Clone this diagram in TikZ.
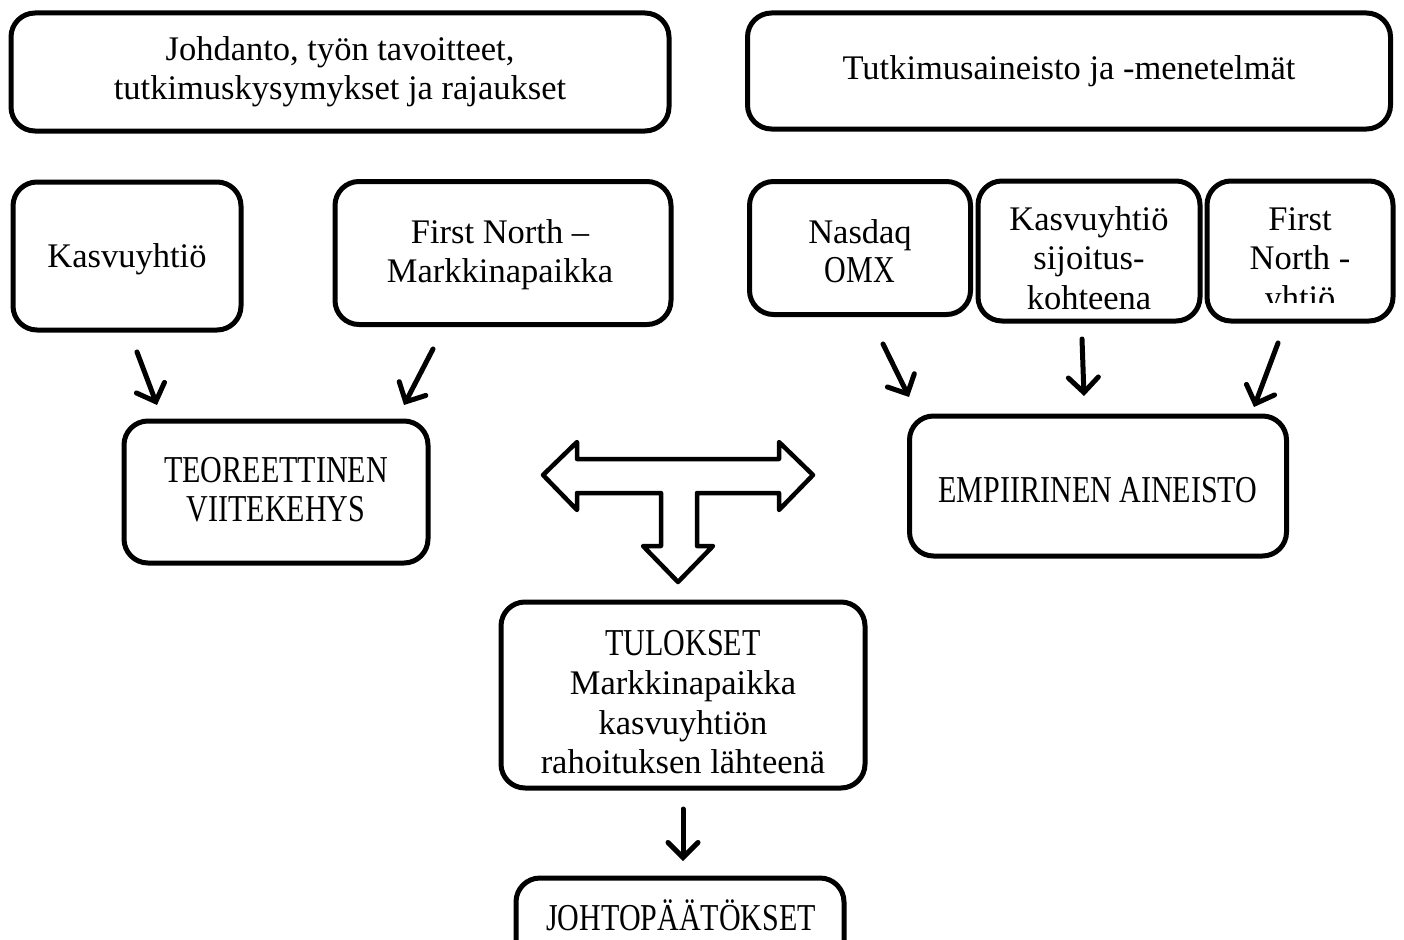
\documentclass[tikz,border=0pt]{standalone}
\usepackage{fontspec}
\setmainfont{Liberation Serif}
\newfontfamily\capsfont[FakeStretch=0.79]{Liberation Serif}
\newcommand\capstext{\fontsize{38}{39.3}\capsfont}
\usetikzlibrary{arrows.meta}
\begin{document}
\begin{tikzpicture}[x=1pt,y=-1pt,
  txt/.style={font=\fontsize{34.5}{39.3}\selectfont, align=center, inner sep=0pt},
  box/.style={draw, line width=5pt, rounded corners=24pt, txt},
  arr/.style={line width=5pt, line cap=round,
    -{Straight Barb[length=15pt,width=30pt,line cap=round]}}]
\clip (0,0) rectangle (1404,939);
\fill[white] (0,0) rectangle (1404,939);
% top boxes
\node[box, minimum width=658pt, minimum height=118pt] (intro) at (340,72)
  {Johdanto, työn tavoitteet,\\tutkimuskysymykset ja rajaukset};
\node[box, minimum width=643pt, minimum height=116pt] (method) at (1069,71)
  {Tutkimusaineisto ja -menetelmät};
% second row
\node[box, minimum width=228pt, minimum height=148pt] (kasv) at (127,256) {};
\node[txt] (kasvt) at (127,259) {Kasvuyhtiö};
\node[box, minimum width=336pt, minimum height=143pt] (fnm) at (503,253) {};
\node[txt] (fnmt) at (500,255) {First North –\\Markkinapaikka};
\node[box, minimum width=221pt, minimum height=133pt] (nasdaq) at (860,248) {};
\node[txt] (nasdaqt) at (860,251) {Nasdaq\\{\capstext OMX}};
\node[box, minimum width=222pt, minimum height=140pt] (kasij) at (1089,251) {};
\node[txt] (kasijt) at (1089,258) {Kasvuyhtiö\\sijoitus-\\kohteena};
\node[box, minimum width=186pt, minimum height=140pt] (fny) at (1300,251) {};
\begin{scope}
  \clip (1210,185) rectangle (1392,302);
  \node[txt] (fnyt) at (1300,262) {First\\North -\\yhtiö};
\end{scope}
% third row
\node[box, minimum width=304pt, minimum height=142pt] (teor) at (276,492) {};
\node[txt] (teort) at (276,490) {\capstext TEOREETTINEN\\\capstext VIITEKEHYS};
\node[box, minimum width=377pt, minimum height=140pt] (emp) at (1098,486) {};
\node[txt] (empt) at (1098,490) {\capstext EMPIIRINEN AINEISTO};
% results
\node[box, minimum width=364pt, minimum height=186pt] (tul) at (683,695) {};
\node[txt] (tult) at (683,702)
  {{\capstext TULOKSET}\\Markkinapaikka\\kasvuyhtiön\\rahoituksen lähteenä};
\node[box, minimum width=328pt, minimum height=100pt] (joht) at (680,928) {};
\node[txt] (jotht) at (681,915) {\capstext JOHTOPÄÄTÖKSET};
% arrow endpoints
\coordinate (a1s) at (137,352); \coordinate (a1e) at (157,405);
\coordinate (a2s) at (433,349); \coordinate (a2e) at (404,405);
\coordinate (a3s) at (883,344); \coordinate (a3e) at (909,397);
\coordinate (a4s) at (1082,339); \coordinate (a4e) at (1084,396);
\coordinate (a5s) at (1278,343); \coordinate (a5e) at (1254,407);
\coordinate (a6s) at (683,809); \coordinate (a6e) at (683,861);
\draw[arr] (a1s) -- (a1e);
\draw[arr] (a2s) -- (a2e);
\draw[arr] (a3s) -- (a3e);
\draw[arr] (a4s) -- (a4e);
\draw[arr] (a5s) -- (a5e);
\draw[arr] (a6s) -- (a6e);
% T-shaped block arrow
\draw[line width=4.5pt, line join=round, fill=white]
  (543,475) -- (577,442) -- (577,459) -- (779,459) -- (779,442) -- (813,475)
  -- (779,510) -- (779,493) -- (697,493) -- (697,546) -- (713,546) -- (678,582)
  -- (643,546) -- (661,546) -- (661,493) -- (577,493) -- (577,510) -- cycle;
\end{tikzpicture}
\end{document}
